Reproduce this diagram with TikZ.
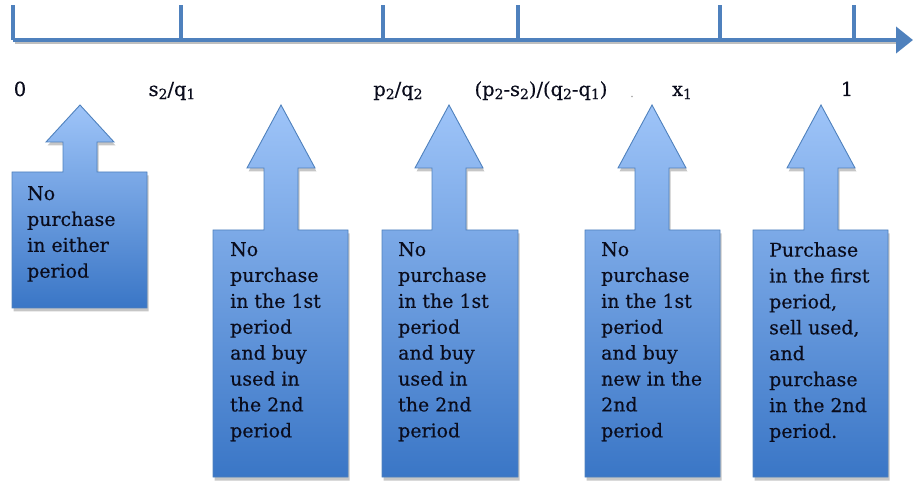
\documentclass[tikz,border=0pt]{standalone}
\usepackage{fontspec}
\setmainfont{DejaVu Serif}[FakeBold=0.4]
\usetikzlibrary{arrows.meta,shadows}
\definecolor{axisblue}{RGB}{79,129,189}
\definecolor{boxtop}{RGB}{158,196,248}
\definecolor{boxbottom}{RGB}{58,118,198}
\definecolor{inktext}{RGB}{10,12,28}
\newcommand{\lowsub}[1]{\raisebox{-0.3ex}{\fontsize{14}{14}\selectfont #1}}
\tikzset{
  axisline/.style={draw=axisblue,line width=4bp},
  callout/.style={draw=axisblue,line width=0.9bp,top color=boxtop,bottom color=boxbottom,
    drop shadow={shadow xshift=1.5bp,shadow yshift=-3.5bp,opacity=0.45}},
  calltext/.style={anchor=north west,inner sep=0pt,align=left,text=inktext,
    font=\fontsize{19}{26}\selectfont},
  ticklabel/.style={anchor=base,inner sep=0pt,text=inktext,font=\fontsize{19.5}{22}\selectfont}
}
\begin{document}
\begin{tikzpicture}[x=1bp,y=-1bp]
\useasboundingbox (0,0) rectangle (913,483);
% the axis
\coordinate (start) at (13,40);
\coordinate (end) at (913,40);
\draw[draw=black!25,line width=3bp] (15,43) -- (897,43);
\draw[axisline,-{Triangle[length=17bp,width=26bp]}] (start) -- (end);
\foreach \x/\nm in {13/t0, 181/ts, 383/tp, 518/tps, 720/tx, 854/tone}{
  \coordinate (\nm) at (\x,40);
  \draw[axisline] (\nm) -- ++(0,-35);
}
% labels under the axis
\node[ticklabel] (l0)   at (20,96)  {0};
\node[ticklabel] (ls)   at (172,96) {s\lowsub{2}/q\lowsub{1}};
\node[ticklabel] (lp)   at (398,96) {p\lowsub{2}/q\lowsub{2}};
\node[ticklabel] (lps)  at (541,96) {(p\lowsub{2}-s\lowsub{2})/(q\lowsub{2}-q\lowsub{1})};
\node[ticklabel,text=black!40,font=\fontsize{10}{10}\selectfont] (ldot) at (632,97) {.};
\node[ticklabel] (lx)   at (682,96) {x\lowsub{1}};
\node[ticklabel] (lone) at (847,96) {1};
% up-arrow boxes: left/right/centre/tip/head base/top/bottom
\foreach \l/\r/\c/\tip/\hb/\tp/\bt in {12/147/80/105/142/172/308, 213/348/281/105/168/230/477,
    382/518/449/105/168/230/477, 585/720/652/105/168/230/477, 753/888/821/105/168/230/477}{
  \path[callout] (\l,\tp) -- (\c-17,\tp) -- (\c-17,\hb) -- (\c-34,\hb) -- (\c,\tip)
    -- (\c+34,\hb) -- (\c+17,\hb) -- (\c+17,\tp) -- (\r,\tp) -- (\r,\bt) -- (\l,\bt) -- cycle;
}
\node[calltext] (b1) at (27,186)  {No\\purchase\\in either\\period};
\node[calltext] (b2) at (230,242) {No\\purchase\\in the 1st\\period\\and buy\\used in\\the 2nd\\period};
\node[calltext] (b3) at (398,242) {No\\purchase\\in the 1st\\period\\and buy\\used in\\the 2nd\\period};
\node[calltext] (b4) at (601,242) {No\\purchase\\in the 1st\\period\\and buy\\new in the\\2nd\\period};
\node[calltext] (b5) at (769,242) {Purchase\\in the first\\period,\\sell used,\\and\\purchase\\in the 2nd\\period.};
\end{tikzpicture}
\end{document}
